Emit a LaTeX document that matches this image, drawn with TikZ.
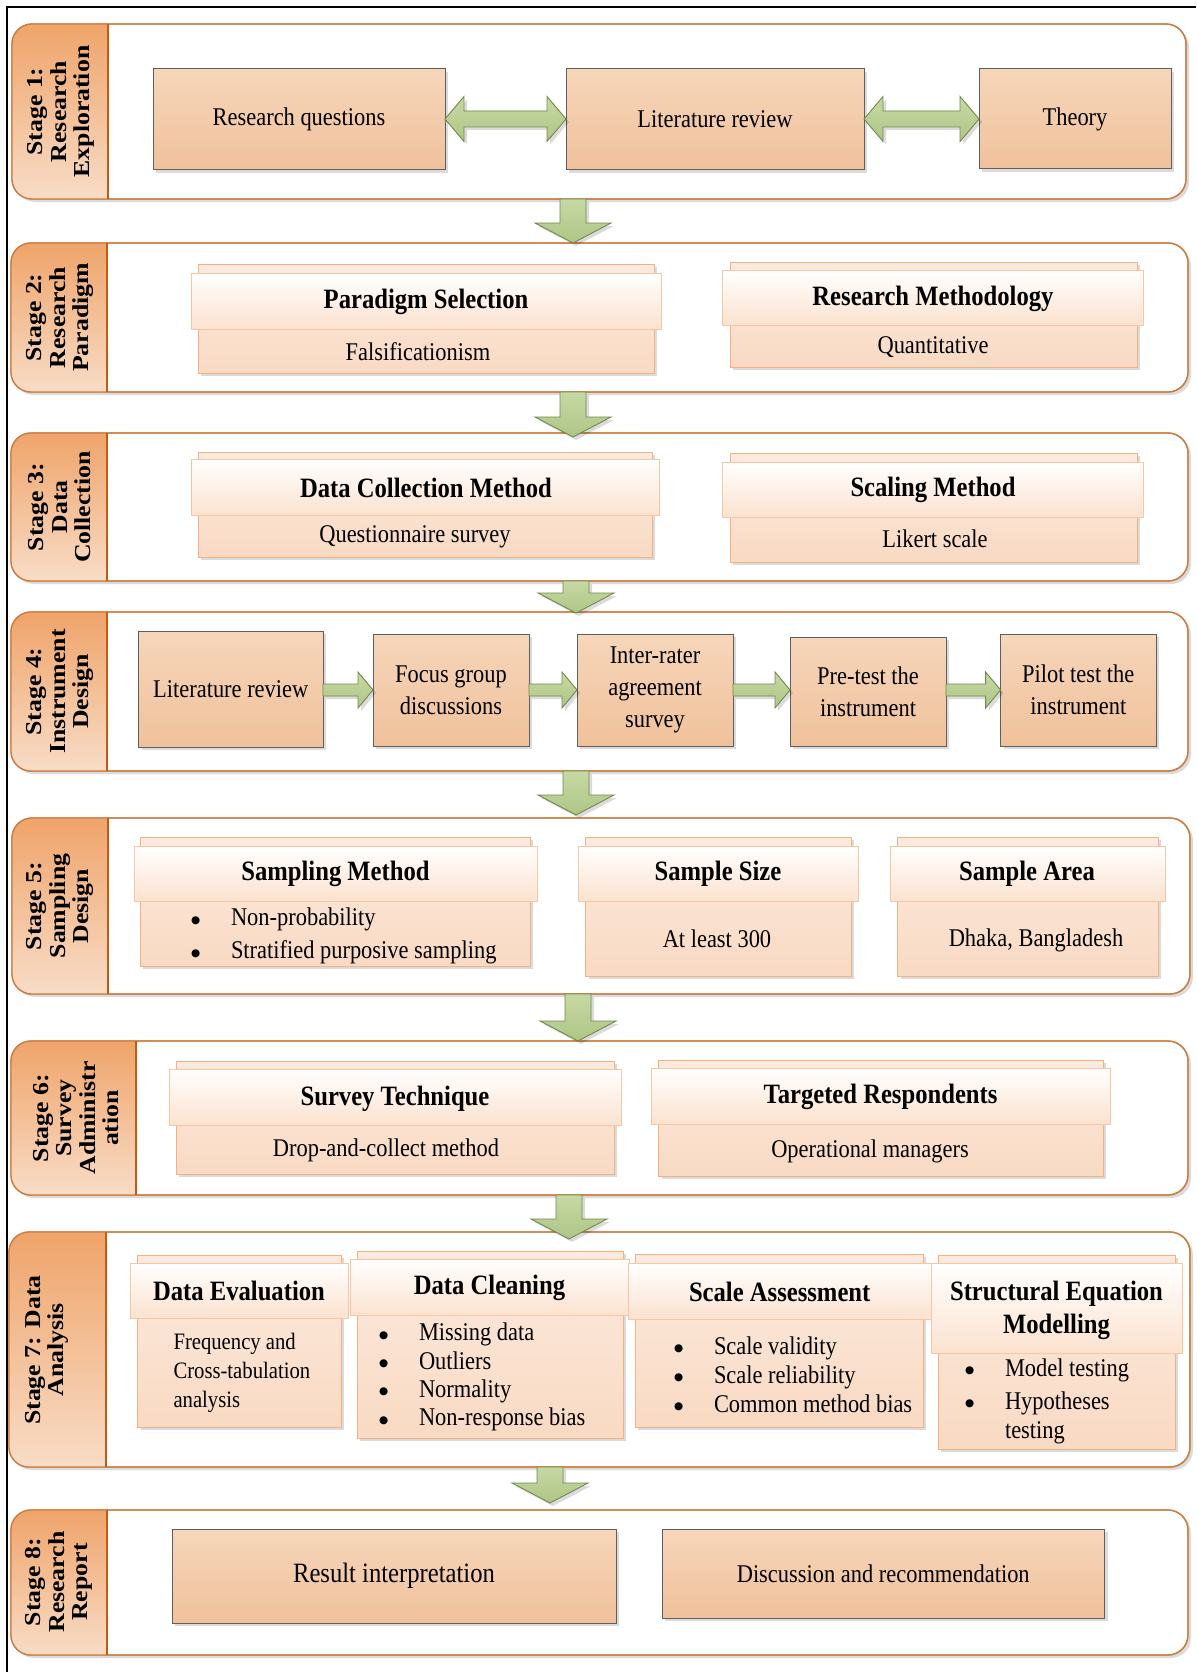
\documentclass[tikz,border=0pt]{standalone}
\usepackage{fontspec}
\setmainfont{Liberation Serif}[FakeStretch=0.88]
\newfontfamily\lblfont{Liberation Serif}[FakeStretch=1.13]
\newfontfamily\dotfont{DejaVu Sans}
\usetikzlibrary{calc,shadows}

\definecolor{stageline}{HTML}{CD7D41}
\definecolor{paneltop}{HTML}{EFA46A}
\definecolor{panelbot}{HTML}{F8DCC6}
\definecolor{panelline}{HTML}{C55A11}
\definecolor{boxtop}{HTML}{F6D6BA}
\definecolor{boxbot}{HTML}{F0C19B}
\definecolor{boxline}{HTML}{5F5F5F}
\definecolor{cardtop}{HTML}{FCEADF}
\definecolor{cardbot}{HTML}{F9DAC3}
\definecolor{cardline}{HTML}{F4B183}
\definecolor{headbot}{HTML}{FBE2CF}
\definecolor{headline}{HTML}{F7C7A4}
\definecolor{arrtop}{HTML}{C6D9A4}
\definecolor{arrbot}{HTML}{AFC585}
\definecolor{arrline}{HTML}{72894F}

\tikzset{
  every node/.style={inner sep=0pt, outer sep=0pt},
  softshadow/.style={drop shadow={shadow xshift=3pt, shadow yshift=-3pt, fill=black, opacity=0.14}},
  stagebox/.style={draw=stageline, line width=1.3pt, rounded corners=20pt, fill=white, softshadow},
  panelshade/.style={top color=paneltop, bottom color=panelbot},
  lbl/.style={rotate=90, align=center, font=\lblfont\bfseries\fontsize{22.8}{23.5}\selectfont},
  solidbox/.style={draw=boxline, line width=1pt, top color=boxtop, bottom color=boxbot, softshadow,
    align=center, font=\fontsize{25.5}{32}\selectfont},
  cardback/.style={draw=cardline, line width=1pt, top color=cardtop, bottom color=cardbot, softshadow},
  cardhead/.style={draw=headline, line width=0.8pt, top color=white, bottom color=headbot},
  ttl/.style={font=\bfseries\fontsize{28}{33}\selectfont, align=center},
  bodytxt/.style={font=\fontsize{25.5}{29}\selectfont, align=center},
  blist/.style={anchor=west, align=left},
  blockarrow/.style={draw=arrline, line width=0.9pt, top color=arrtop, bottom color=arrbot, softshadow},
  framestyle/.style={line width=2.3pt, black},
}

% stage frame: name, x0, y0, x1, y1, right edge of the label panel
\newcommand\stageat[6]{%
  \pgfmathsetmacro\cwid{#4-#2}\pgfmathsetmacro\chgt{#5-#3}%
  \node[stagebox, anchor=north west, minimum width=\cwid pt, minimum height=\chgt pt] (#1) at (#2,#3) {};
  \begin{scope}
    \clip[rounded corners=20pt] (#1.north west) rectangle (#1.south east);
    \shade[panelshade] (#1.north west) rectangle (#6,#5);
  \end{scope}
  \draw[stageline, line width=1.3pt, rounded corners=20pt] (#1.north west) rectangle (#1.south east);
  \draw[panelline, line width=1.6pt] (#6,#3) -- (#6,#5);
}
% solid orange box: name, x0, y0, x1, y1, text
\newcommand\solidat[6]{%
  \pgfmathsetmacro\cwid{#4-#2}\pgfmathsetmacro\chgt{#5-#3}%
  \node[solidbox, anchor=north west, minimum width=\cwid pt, minimum height=\chgt pt] (#1) at (#2,#3) {#6};
}
% two-layer card: name, back rectangle, header rectangle
\newcommand\cardat[9]{%
  \pgfmathsetmacro\cwid{#4-#2}\pgfmathsetmacro\chgt{#5-#3}%
  \node[cardback, anchor=north west, minimum width=\cwid pt, minimum height=\chgt pt] (#1) at (#2,#3) {};
  \pgfmathsetmacro\cwid{#8-#6}\pgfmathsetmacro\chgt{#9-#7}%
  \node[cardhead, anchor=north west, minimum width=\cwid pt, minimum height=\chgt pt] (#1h) at (#6,#7) {};
}
% block arrows
\newcommand\downblk[4]{% x, top anchor, tip anchor, extra tip depth
  \draw[blockarrow] let \p1=(#1,0 |- #2), \p2=(#1,0 |- #3) in
    (\x1-13pt,\y1) -- (\x1+13pt,\y1) -- (\x1+13pt,\y2-#4pt+20pt) -- (\x1+38pt,\y2-#4pt+20pt)
    -- (\x1,\y2-#4pt) -- (\x1-38pt,\y2-#4pt+20pt) -- (\x1-13pt,\y2-#4pt+20pt) -- cycle;
}
\newcommand\rightblk[3]{% from, to, y
  \draw[blockarrow] let \p1=(#1.east), \p2=(#2.west), \p3=(0,#3) in
    (\x1,\y3+6pt) -- (\x2-15pt,\y3+6pt) -- (\x2-15pt,\y3+18pt) -- (\x2,\y3)
    -- (\x2-15pt,\y3-18pt) -- (\x2-15pt,\y3-6pt) -- (\x1,\y3-6pt) -- cycle;
}
\newcommand\dblblk[3]{% from, to, y
  \draw[blockarrow] let \p1=(#1.east), \p2=(#2.west), \p3=(0,#3) in
    (\x1,\y3) -- (\x1+19pt,\y3+22.5pt) -- (\x1+19pt,\y3+8pt) -- (\x2-19pt,\y3+8pt)
    -- (\x2-19pt,\y3+22.5pt) -- (\x2,\y3) -- (\x2-19pt,\y3-22.5pt) -- (\x2-19pt,\y3-8pt)
    -- (\x1+19pt,\y3-8pt) -- (\x1+19pt,\y3-22.5pt) -- cycle;
}
% list item with a round black bullet
\newcommand\bitem[1]{\makebox[40pt][l]{\raisebox{2.5pt}{\dotfont\fontsize{10.5}{0}\selectfont ●}}#1}

\begin{document}
\begin{tikzpicture}[x=1pt, y=-1pt]
\useasboundingbox (0,0) rectangle (1196,1672);
\fill[white] (0,0) rectangle (1196,1672);

% outer frame (top and left edges)
\coordinate (fa) at (1196,7);
\coordinate (fb) at (7,7);
\coordinate (fc) at (7,1672);
\draw[framestyle] (fa) -- (fb) -- (fc);

% ---------- stage frames ----------
\stageat{s1}{12}{24}{1186}{199}{108}
\node[lbl] (l1) at (61,111.5) {Stage 1:\\Research\\Exploration};
\stageat{s2}{11}{243}{1188}{392}{107}
\node[lbl] (l2) at (60,317.5) {Stage 2:\\Research\\Paradigm};
\stageat{s3}{11}{433}{1188}{581}{107}
\node[lbl] (l3) at (60,507) {Stage 3:\\Data\\Collection};
\stageat{s4}{11}{612}{1188}{771}{107}
\node[lbl] (l4) at (60,691.5) {Stage 4:\\Instrument\\Design};
\stageat{s5}{12}{818}{1190}{994}{108}
\node[lbl] (l5) at (60,906) {Stage 5:\\Sampling\\Design};
\stageat{s6}{11}{1041}{1188}{1195}{136}
\node[lbl] (l6) at (76,1118) {Stage 6:\\Survey\\Administr\\ation};
\stageat{s7}{9}{1232}{1190}{1467}{106}
\node[lbl] (l7) at (47,1350) {Stage 7: Data\\Analysis};
\stageat{s8}{11}{1510}{1188}{1655}{107}
\node[lbl] (l8) at (59,1582) {Stage 8:\\Research\\Report};

% ---------- stage 1 ----------
\solidat{rq}{153}{69}{445}{170}{Research questions}
\solidat{lr}{566}{69}{864}{170}{Literature review}
\solidat{th}{979}{69}{1171}{169}{Theory}
\dblblk{rq}{lr}{119}
\dblblk{lr}{th}{119}

% ---------- stage 2 ----------
\cardat{ps}{198}{264}{654}{373}{191}{273}{661}{329}
\node[ttl] (pst) at (426,302) {Paradigm Selection};
\node[bodytxt] (pss) at (418,352) {Falsificationism};
\cardat{rm}{730}{262}{1137}{367}{722}{270}{1143}{325}
\node[ttl] (rmt) at (933,299) {Research Methodology};
\node[bodytxt] (rms) at (933,347) {Quantitative};

% ---------- stage 3 ----------
\cardat{dc}{198}{452}{652}{557}{191}{459}{659}{515}
\node[ttl] (dct) at (426,488) {Data Collection Method};
\node[bodytxt] (dcs) at (415,537) {Questionnaire survey};
\cardat{sc}{730}{453}{1137}{562}{722}{462}{1143}{517}
\node[ttl] (sct) at (933,490) {Scaling Method};
\node[bodytxt] (scs) at (935,539) {Likert scale};

% ---------- stage 4 ----------
\solidat{b1}{138.5}{631}{323}{747}{Literature review}
\solidat{b2}{373}{634}{529}{746}{Focus group\\discussions}
\solidat{b3}{577}{634}{733}{746}{Inter-rater\\agreement\\survey}
\solidat{b4}{790}{637}{946}{746}{Pre-test the\\instrument}
\solidat{b5}{1000.6}{634}{1156}{746}{Pilot test the\\instrument}
\rightblk{b1}{b2}{690}
\rightblk{b2}{b3}{690}
\rightblk{b3}{b4}{690}
\rightblk{b4}{b5}{690}

% ---------- stage 5 ----------
\cardat{sm}{140}{837}{530}{966}{134}{846}{537}{901}
\node[ttl] (smt) at (335.5,874) {Sampling Method};
\node[blist, font=\fontsize{25.5}{33}\selectfont] (sml) at (191,936)
  {\bitem{Non-probability}\\\bitem{Stratified purposive sampling}};
\cardat{ss}{585.6}{837}{851}{976}{578}{846}{858.6}{901}
\node[ttl] (sst) at (718,874) {Sample Size};
\node[bodytxt] (sss) at (717,939) {At least 300};
\cardat{sa}{897.5}{837}{1158}{976}{890}{846}{1165}{901}
\node[ttl] (sat) at (1027,874) {Sample Area};
\node[bodytxt] (sas) at (1036,940) {Dhaka, Bangladesh};

% ---------- stage 6 ----------
\cardat{st}{176}{1061}{614}{1174}{169}{1069}{621}{1125}
\node[ttl] (stt) at (395,1099) {Survey Technique};
\node[bodytxt] (sts) at (386,1150) {Drop-and-collect method};
\cardat{tr}{658.6}{1060}{1103}{1176}{651}{1068}{1110}{1124}
\node[ttl] (trt) at (880.5,1097) {Targeted Respondents};
\node[bodytxt] (trs) at (870,1151) {Operational managers};

% ---------- stage 7 ----------
\cardat{de}{137.5}{1255}{341}{1427}{130}{1263}{348}{1318}
\node[ttl] (det) at (239,1291) {Data Evaluation};
\node[blist, font=\fontsize{23.5}{29}\selectfont] (del) at (173.5,1373)
  {Frequency and\\Cross-tabulation\\analysis};
\cardat{dl}{357}{1251}{623}{1438}{350}{1259}{629}{1315}
\node[ttl] (dlt) at (489.5,1288) {Data Cleaning};
\node[blist, font=\fontsize{25.5}{28.3}\selectfont] (dll) at (379,1377)
  {\bitem{Missing data}\\\bitem{Outliers}\\\bitem{Normality}\\\bitem{Non-response bias}};
\cardat{sq}{635}{1254}{923}{1427}{628.5}{1263}{931}{1319}
\node[ttl] (sqt) at (779.7,1292) {Scale Assessment};
\node[blist, font=\fontsize{25.5}{29}\selectfont] (sql) at (674,1374.5)
  {\bitem{Scale validity}\\\bitem{Scale reliability}\\\bitem{Common method bias}};
\cardat{se}{938}{1255}{1175}{1449}{931}{1263}{1182}{1353}
\node[ttl] (set) at (1056.5,1310) {Structural Equation\\Modelling};
\node[blist, font=\fontsize{25.5}{29}\selectfont] (sel) at (965,1401)
  {\bitem{Model testing}\\[4pt]\bitem{Hypotheses}\\\hspace*{40pt}testing};

% ---------- stage 8 ----------
\solidat{ri}{172}{1529}{616}{1623}{\fontsize{28}{32}\selectfont Result interpretation}
\solidat{dr}{662}{1529}{1104.5}{1618}{Discussion and recommendation}

% ---------- arrows between stages ----------
\downblk{573}{s1.south}{s2.north}{0}
\downblk{573}{s2.south}{s3.north}{4}
\downblk{576}{s3.south}{s4.north}{1}
\downblk{576}{s4.south}{s5.north}{-3}
\downblk{578}{s5.south}{s6.north}{0}
\downblk{569}{s6.south}{s7.north}{7}
\downblk{550}{s7.south}{s8.north}{-7}
\end{tikzpicture}
\end{document}
